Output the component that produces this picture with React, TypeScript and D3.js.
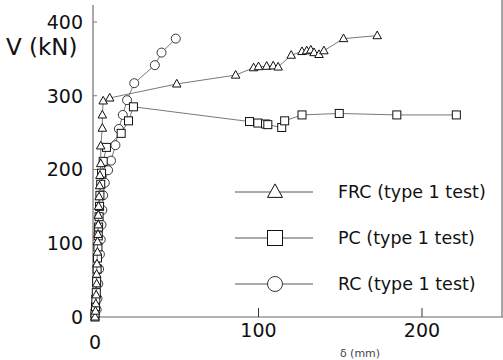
import React, { useRef, useEffect } from 'react';
import * as d3 from 'd3';

// displacement / load pairs
const frcDisp = [0, 0.3, 0.5, 0.7, 1, 1, 1.2, 1.5, 1.5, 1.8, 2, 2, 2.2, 2.5, 2.8, 3, 3.5, 3.5, 4.5, 4.5, 5, 9, 50, 86, 97, 100, 105, 109, 112, 120, 126.6, 129.5, 132, 134, 137, 140, 152, 172.6];
const frcLoad = [0, 8, 18, 30, 45, 58, 72, 88, 102, 112, 125, 138, 150, 163, 178, 192, 208, 232, 256, 274, 293, 297, 316, 328, 338, 339.5, 340, 340.5, 339, 355, 360, 361, 362, 358.5, 356, 361, 377.5, 381.5];

const pcDisp = [0, 0, 0.3, 0.5, 0.8, 1, 1.3, 1.5, 1.8, 2, 2.2, 2.5, 2.8, 3, 3.5, 4, 5, 7, 16, 20.5, 23.5, 94.5, 99.6, 104.3, 105.7, 114.2, 116, 126.6, 149.4, 184.6, 221];
const pcLoad = [0, 5, 14, 24, 33, 48, 65, 80, 95, 110, 122, 136, 150, 165, 180, 195, 211, 230, 249, 266, 285, 265, 263, 261.7, 260.8, 257, 266, 274, 276, 274, 274];

const rcDisp = [1, 1.5, 2, 2.5, 3, 3.5, 4, 4.5, 5, 6, 8, 9.8, 12.5, 14.6, 17, 19.6, 24, 36.6, 40.7, 49.4];
const rcLoad = [10, 25, 45, 65, 85, 105, 125, 145, 165, 182, 199, 212, 233, 255, 274, 294, 317, 341.5, 358.5, 377.5];

const legendLabels = ['FRC (type 1 test)', 'PC (type 1 test)', 'RC (type 1 test)'];
const xTicks = [0, 100, 200];
const yTicks = [0, 100, 200, 300, 400];

type Shape = 'tri' | 'sq' | 'circ';

const App: React.FC = () => {
  const ref = useRef<SVGSVGElement>(null);

  useEffect(() => {
    const svg = d3.select(ref.current);
    svg.selectAll('*').remove();
    const width = 503;
    const height = 360;
    svg.attr('width', width).attr('height', height);

    const x = d3.scaleLinear().domain([0, 200]).range([95, 422]);
    const y = d3.scaleLinear().domain([0, 400]).range([317, 22]);

    const font = 'DejaVu Sans, Verdana, sans-serif';

    // axes frame
    svg.append('line').attr('x1', 93).attr('x2', 93).attr('y1', 5).attr('y2', 317)
      .attr('stroke', '#555').attr('stroke-width', 1);
    svg.append('line').attr('x1', 93).attr('x2', 503).attr('y1', 317).attr('y2', 317)
      .attr('stroke', '#666').attr('stroke-width', 1);
    svg.append('line').attr('x1', 502).attr('x2', 502).attr('y1', 0).attr('y2', 317)
      .attr('stroke', '#888').attr('stroke-width', 1.5);

    // ticks
    svg.append('g').selectAll('line').data(xTicks.filter(d => d > 0)).join('line')
      .attr('x1', d => x(d)).attr('x2', d => x(d))
      .attr('y1', 317).attr('y2', 308)
      .attr('stroke', '#333').attr('stroke-width', 1);
    svg.append('g').selectAll('line').data(yTicks.filter(d => d > 0)).join('line')
      .attr('x1', 93).attr('x2', 97)
      .attr('y1', d => y(d)).attr('y2', d => y(d))
      .attr('stroke', '#777').attr('stroke-width', 1);

    svg.append('g').selectAll('text').data(xTicks).join('text')
      .attr('x', d => x(d))
      .attr('y', d => d === 0 ? 349 : 337)
      .attr('text-anchor', 'middle')
      .attr('font-family', font).attr('font-size', 19).attr('fill', '#111')
      .text(d => d);
    svg.append('g').selectAll('text').data(yTicks).join('text')
      .attr('x', 83)
      .attr('y', d => y(d))
      .attr('dy', '0.36em')
      .attr('text-anchor', 'end')
      .attr('font-family', font).attr('font-size', 19).attr('fill', '#111')
      .text(d => d);

    svg.append('text').attr('x', 6).attr('y', 55)
      .attr('font-family', font).attr('font-size', 23).attr('fill', '#111')
      .text('V (kN)');
    svg.append('text').attr('x', 360).attr('y', 357)
      .attr('text-anchor', 'middle')
      .attr('font-family', font).attr('font-size', 11).attr('fill', '#444')
      .text('δ (mm)');

    const drawMarker = (g: d3.Selection<SVGGElement, unknown, null, undefined>, shape: Shape, cx: number, cy: number, s: number) => {
      if (shape === 'tri') {
        const h = s * 0.9;
        g.append('path')
          .attr('d', `M${cx},${cy - h * 0.6}L${cx + s / 2},${cy + h * 0.4}L${cx - s / 2},${cy + h * 0.4}Z`)
          .attr('fill', '#fff').attr('stroke', '#111').attr('stroke-width', 1);
      } else if (shape === 'sq') {
        g.append('rect').attr('x', cx - s / 2).attr('y', cy - s / 2)
          .attr('width', s).attr('height', s)
          .attr('fill', '#fff').attr('stroke', '#111').attr('stroke-width', 1);
      } else {
        g.append('circle').attr('cx', cx).attr('cy', cy).attr('r', s / 2)
          .attr('fill', '#fff').attr('stroke', '#222').attr('stroke-width', 0.9);
      }
    };

    const series: { xs: number[]; ys: number[]; shape: Shape; size: number }[] = [
      { xs: rcDisp, ys: rcLoad, shape: 'circ', size: 9 },
      { xs: pcDisp, ys: pcLoad, shape: 'sq', size: 8 },
      { xs: frcDisp, ys: frcLoad, shape: 'tri', size: 8.5 },
    ];

    series.forEach(s => {
      const pts = s.xs.map((d, i) => [x(d), y(s.ys[i])] as [number, number]);
      svg.append('path')
        .attr('d', d3.line()(pts))
        .attr('fill', 'none').attr('stroke', '#555').attr('stroke-width', 0.8);
      const g = svg.append('g');
      pts.forEach(([px, py]) => drawMarker(g, s.shape, px, py, s.size));
    });

    // legend
    const legendShapes: Shape[] = ['tri', 'sq', 'circ'];
    const legendY = d3.scalePoint<string>().domain(legendLabels).range([192, 284]);
    legendLabels.forEach((lab, i) => {
      const ly = legendY(lab)!;
      svg.append('line').attr('x1', 235).attr('x2', 313).attr('y1', ly).attr('y2', ly)
        .attr('stroke', '#555').attr('stroke-width', 1);
      const g = svg.append('g');
      drawMarker(g, legendShapes[i], 275, ly, 15);
      svg.append('text').attr('x', 338).attr('y', ly).attr('dy', '0.35em')
        .attr('font-family', font).attr('font-size', 17.5).attr('fill', '#111')
        .text(lab);
    });
  }, []);

  return <svg ref={ref} style={{ position: 'absolute', left: 0, top: 0 }}></svg>;
};

export default App;
